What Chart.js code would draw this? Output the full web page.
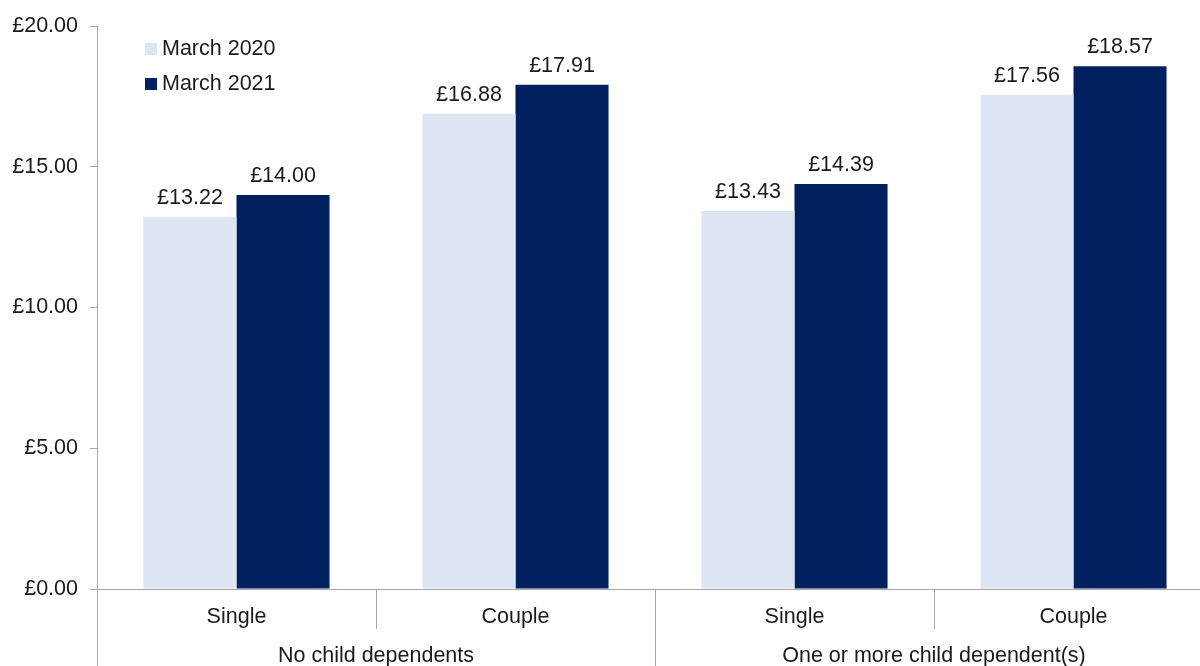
<!DOCTYPE html>
<html>
<head>
  <title>Hourly rates chart</title>
  <script src="https://cdn.jsdelivr.net/npm/chart.js"></script>
  <style>
    html, body { margin: 0; padding: 0; background: #fff; overflow: hidden; }
    #wrap { width: 1213px; height: 666px; }
  </style>
</head>
<body>
  <div id="wrap"><canvas id="ratesChart"></canvas></div>
  <script>
    const categories = ["Single", "Couple", "Single", "Couple"];
    const groups = ["No child dependents", "One or more child dependent(s)"];
    const seriesNames = ["March 2020", "March 2021"];
    const march2020 = [13.22, 16.88, 13.43, 17.56];
    const march2021 = [14.00, 17.91, 14.39, 18.57];
    const yTicks = [0, 5, 10, 15, 20];

    const FONT = "'Liberation Sans', Arial, sans-serif";
    const AXIS = "#a6a6a6";
    const TEXT = "#1a1a1a";
    const colours = ["#dce6f2", "#002060"];

    const money = v => "£" + v.toFixed(2);

    // value labels, legend, and the two-level category axis
    const extras = {
      id: "extras",
      afterDatasetsDraw(chart) {
        const ctx = chart.ctx;
        ctx.save();
        ctx.font = "21.5px " + FONT;
        ctx.fillStyle = TEXT;
        ctx.textAlign = "center";
        ctx.textBaseline = "bottom";
        chart.data.datasets.forEach((ds, i) => {
          chart.getDatasetMeta(i).data.forEach((bar, j) => {
            ctx.fillText(money(ds.data[j]), bar.x, bar.y - 8);
          });
        });
        ctx.restore();
      },
      afterDraw(chart) {
        const ctx = chart.ctx;
        const x = chart.scales.x;
        const area = chart.chartArea;
        const half = (x.getPixelForValue(1) - x.getPixelForValue(0)) / 2;
        ctx.save();

        // legend
        ctx.font = "21.5px " + FONT;
        ctx.textAlign = "left";
        ctx.textBaseline = "middle";
        seriesNames.forEach((name, i) => {
          const cy = 49 + i * 35;
          ctx.fillStyle = colours[i];
          ctx.fillRect(145, cy - 6, 12, 12);
          ctx.fillStyle = TEXT;
          ctx.fillText(name, 162, cy);
        });

        // category separators
        ctx.strokeStyle = AXIS;
        ctx.lineWidth = 1;
        for (let i = 0; i < categories.length; i++) {
          const left = Math.round(x.getPixelForValue(i) - half) + 0.5;
          const long = i % 2 === 0;
          ctx.beginPath();
          ctx.moveTo(left, area.bottom);
          ctx.lineTo(left, long ? chart.height : area.bottom + 40);
          ctx.stroke();
        }

        // group labels
        ctx.fillStyle = TEXT;
        ctx.textAlign = "center";
        groups.forEach((g, k) => {
          const cx = (x.getPixelForValue(k * 2) + x.getPixelForValue(k * 2 + 1)) / 2;
          ctx.fillText(g, cx, area.bottom + 67);
        });
        ctx.restore();
      }
    };

    const ctx = document.getElementById("ratesChart").getContext("2d");
    new Chart(ctx, {
      type: "bar",
      data: {
        labels: categories,
        datasets: [
          { label: seriesNames[0], data: march2020, backgroundColor: colours[0] },
          { label: seriesNames[1], data: march2021, backgroundColor: colours[1] }
        ]
      },
      options: {
        responsive: true,
        maintainAspectRatio: false,
        animation: false,
        categoryPercentage: 0.667,
        barPercentage: 1,
        layout: { padding: { top: 26, left: 0, right: 0, bottom: 0 } },
        plugins: {
          legend: { display: false },
          tooltip: { enabled: false }
        },
        scales: {
          x: {
            grid: { display: false, drawTicks: false },
            border: { color: AXIS, width: 1 },
            ticks: {
              color: TEXT,
              font: { family: FONT, size: 21.5 },
              padding: 15,
              maxRotation: 0
            },
            afterFit(scale) { scale.height = 77; }
          },
          y: {
            min: 0,
            max: 20,
            afterBuildTicks(scale) { scale.ticks = yTicks.map(v => ({ value: v })); },
            grid: { drawOnChartArea: false, drawTicks: true, tickLength: 7, color: AXIS },
            border: { color: AXIS, width: 1 },
            ticks: {
              color: TEXT,
              font: { family: FONT, size: 21.5 },
              padding: 12,
              callback: v => money(v)
            },
            afterFit(scale) { scale.width = 97; }
          }
        }
      },
      plugins: [extras]
    });
  </script>
</body>
</html>
